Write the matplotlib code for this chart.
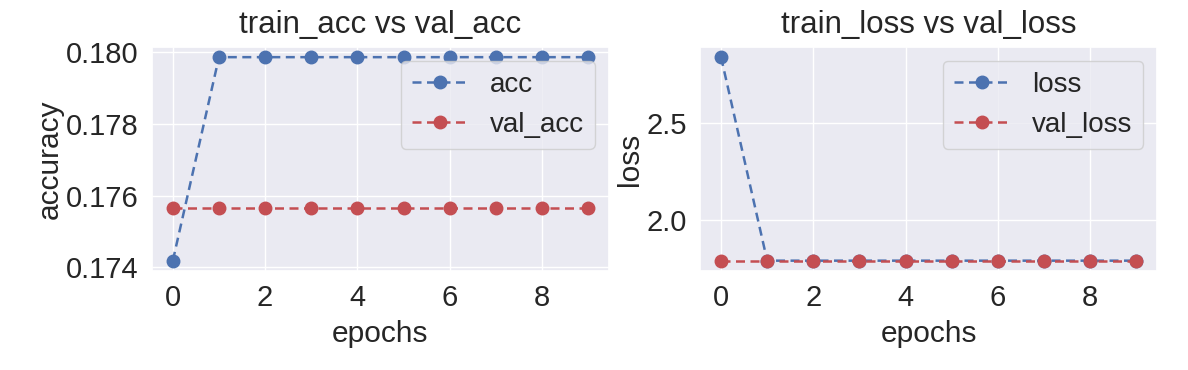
import matplotlib
matplotlib.use("Agg")
import matplotlib.pyplot as plt
from matplotlib.ticker import MultipleLocator
import seaborn as sns

# training history values
epochs = list(range(10))
acc = [0.17419, 0.17986, 0.17986, 0.17986, 0.17986, 0.17986, 0.17986, 0.17986, 0.17986, 0.17986]
val_acc = [0.17565, 0.17565, 0.17565, 0.17565, 0.17565, 0.17565, 0.17565, 0.17565, 0.17565, 0.17565]
loss = [2.838, 1.7918, 1.7918, 1.7918, 1.7918, 1.7918, 1.7918, 1.7918, 1.7918, 1.7918]
val_loss = [1.7918, 1.7918, 1.7918, 1.7918, 1.7918, 1.7918, 1.7918, 1.7918, 1.7918, 1.7918]

sns.set(font_scale=1.5)
plt.rcParams['font.family'] = ['Liberation Sans', 'DejaVu Sans']
plt.rcParams.update({
    'xtick.labelsize': 21,
    'ytick.labelsize': 21,
    'axes.labelsize': 21.5,
    'axes.titlesize': 22.5,
    'legend.fontsize': 20,
})

fig, (ax1, ax2) = plt.subplots(1, 2, figsize=(11.88, 3.7), dpi=100)
fig.subplots_adjust(left=0.128, right=0.974, top=0.873, bottom=0.268, wspace=0.2)

style = dict(markersize=9, lw=1.8, dashes=(3.6, 2.2))

ax1.plot(epochs, acc, 'b--o', label='acc', **style)
ax1.plot(epochs, val_acc, 'r--o', label='val_acc', **style)
ax1.yaxis.set_major_locator(MultipleLocator(0.002))
ax1.set_title('train_acc vs val_acc', pad=10)
ax1.set_xlabel('epochs', labelpad=6)
ax1.set_ylabel('accuracy', labelpad=2)
ax1.legend(loc='upper right')

ax2.plot(epochs, loss, 'b--o', label='loss', **style)
ax2.plot(epochs, val_loss, 'r--o', label='val_loss', **style)
ax2.set_title('train_loss vs val_loss', pad=10)
ax2.set_xlabel('epochs', labelpad=6)
ax2.set_ylabel('loss', labelpad=2)
ax2.legend(loc='upper right')

fig.savefig('out.png', dpi=100)
